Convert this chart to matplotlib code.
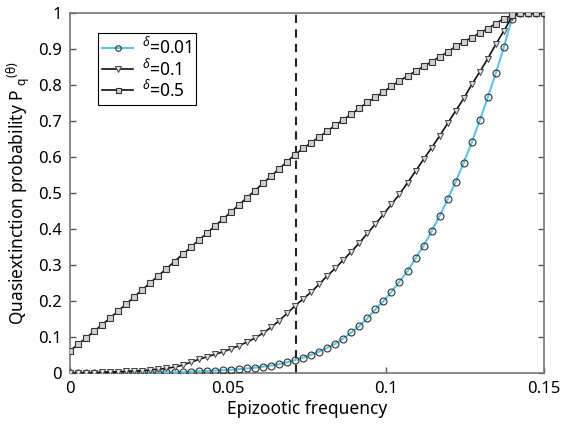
import numpy as np
import matplotlib
matplotlib.use("Agg")
import matplotlib.pyplot as plt

plt.rcParams['font.family'] = ['Noto Sans', 'DejaVu Sans']
plt.rcParams['mathtext.fontset'] = 'custom'
plt.rcParams['mathtext.rm'] = 'Noto Sans'
plt.rcParams['mathtext.it'] = 'Noto Sans:italic'

# frecuencia epizoótica: 60 puntos de 0 a 0.15
frecuencia = np.linspace(0, 0.15, 60)

# delta = 0.01
p_001 = [0.0, 0.0, 0.0, 0.0, 0.0, 0.0, 0.0, 0.0, 0.0005, 0.0008,
         0.001, 0.0015, 0.002, 0.0025, 0.003, 0.004, 0.005, 0.006, 0.007, 0.008,
         0.009, 0.011, 0.013, 0.015, 0.018, 0.021, 0.025, 0.030, 0.036, 0.043,
         0.051, 0.060, 0.070, 0.082, 0.096, 0.113, 0.131, 0.152, 0.177, 0.200,
         0.226, 0.254, 0.283, 0.319, 0.354, 0.394, 0.437, 0.483, 0.532, 0.585,
         0.641, 0.703, 0.766, 0.834, 0.906, 0.985, 1.0, 1.0, 1.0, 1.0]

# delta = 0.1
p_01 = [0.0, 0.0005, 0.001, 0.0015, 0.002, 0.003, 0.004, 0.005, 0.006, 0.007,
        0.009, 0.011, 0.013, 0.017, 0.022, 0.030, 0.038, 0.045, 0.052, 0.059,
        0.067, 0.076, 0.086, 0.097, 0.111, 0.127, 0.145, 0.166, 0.187, 0.206,
        0.225, 0.247, 0.270, 0.291, 0.314, 0.337, 0.362, 0.388, 0.414, 0.441,
        0.469, 0.497, 0.529, 0.561, 0.594, 0.626, 0.659, 0.694, 0.729, 0.763,
        0.802, 0.837, 0.874, 0.914, 0.951, 0.990, 1.0, 1.0, 1.0, 1.0]

# delta = 0.5
p_05 = [0.062, 0.080, 0.098, 0.116, 0.135, 0.153, 0.173, 0.192, 0.212, 0.232,
        0.251, 0.271, 0.290, 0.310, 0.330, 0.349, 0.369, 0.388, 0.408, 0.427,
        0.447, 0.467, 0.487, 0.507, 0.527, 0.547, 0.567, 0.587, 0.607, 0.624,
        0.640, 0.656, 0.672, 0.688, 0.704, 0.719, 0.736, 0.752, 0.766, 0.781,
        0.797, 0.812, 0.825, 0.839, 0.852, 0.865, 0.879, 0.892, 0.908, 0.920,
        0.932, 0.945, 0.957, 0.971, 0.985, 0.994, 1.0, 1.0, 1.0, 1.0]

umbral = 0.0715

xticks = [0, 0.05, 0.1, 0.15]
xtick_labels = ['0', '0.05', '0.1', '0.15']
yticks = [0, 0.1, 0.2, 0.3, 0.4, 0.5, 0.6, 0.7, 0.8, 0.9, 1.0]
ytick_labels = ['0', '0.1', '0.2', '0.3', '0.4', '0.5', '0.6', '0.7', '0.8', '0.9', '1']

fig = plt.figure(figsize=(5.65, 4.24), dpi=100)
ax = fig.add_axes([0.124, 0.120, 0.839, 0.849])

ax.axvline(umbral, color='#222222', linestyle=(0, (4, 3)), linewidth=1.5, zorder=1)

ax.plot(frecuencia, p_001, color='#5cc4ec', linewidth=1.5, marker='o', markersize=5,
        markerfacecolor='none', markeredgecolor='#333333', markeredgewidth=0.8,
        label=r'$^{\delta}$=0.01', zorder=3)
ax.plot(frecuencia, p_01, color='#111111', linewidth=1.2, marker='v', markersize=5,
        markerfacecolor='#e0e0e0', markeredgecolor='#444444', markeredgewidth=0.7,
        label=r'$^{\delta}$=0.1', zorder=4)
ax.plot(frecuencia, p_05, color='#111111', linewidth=1.2, marker='s', markersize=4.5,
        markerfacecolor='#d0d0d0', markeredgecolor='#333333', markeredgewidth=0.8,
        label=r'$^{\delta}$=0.5', zorder=5)

ax.set_xlim(0, 0.15)
ax.set_ylim(0, 1)
ax.set_xticks(xticks)
ax.set_xticklabels(xtick_labels)
ax.set_yticks(yticks)
ax.set_yticklabels(ytick_labels)
ax.tick_params(direction='in', length=4, width=1, color='#555555', labelsize=12,
               right=True, top=False, pad=6)
for s in ax.spines.values():
    s.set_color('#777777')
    s.set_linewidth(1.2)

ax.set_xlabel('Epizootic frequency', fontsize=12.5, labelpad=2)
ax.set_ylabel(r'Quasiextinction probability P $_\mathregular{q}$$^\mathregular{(θ)}$',
              fontsize=12.5, labelpad=4)

leg = ax.legend(loc='upper left', bbox_to_anchor=(0.058, 0.946), borderaxespad=0,
                fancybox=False, edgecolor='black', fontsize=12.5, handlelength=1.8,
                handletextpad=0.5, labelspacing=0.0, borderpad=0.25, framealpha=1,
                markerscale=0.8)
leg.get_frame().set_linewidth(0.8)

fig.savefig('out.png', dpi=100)
